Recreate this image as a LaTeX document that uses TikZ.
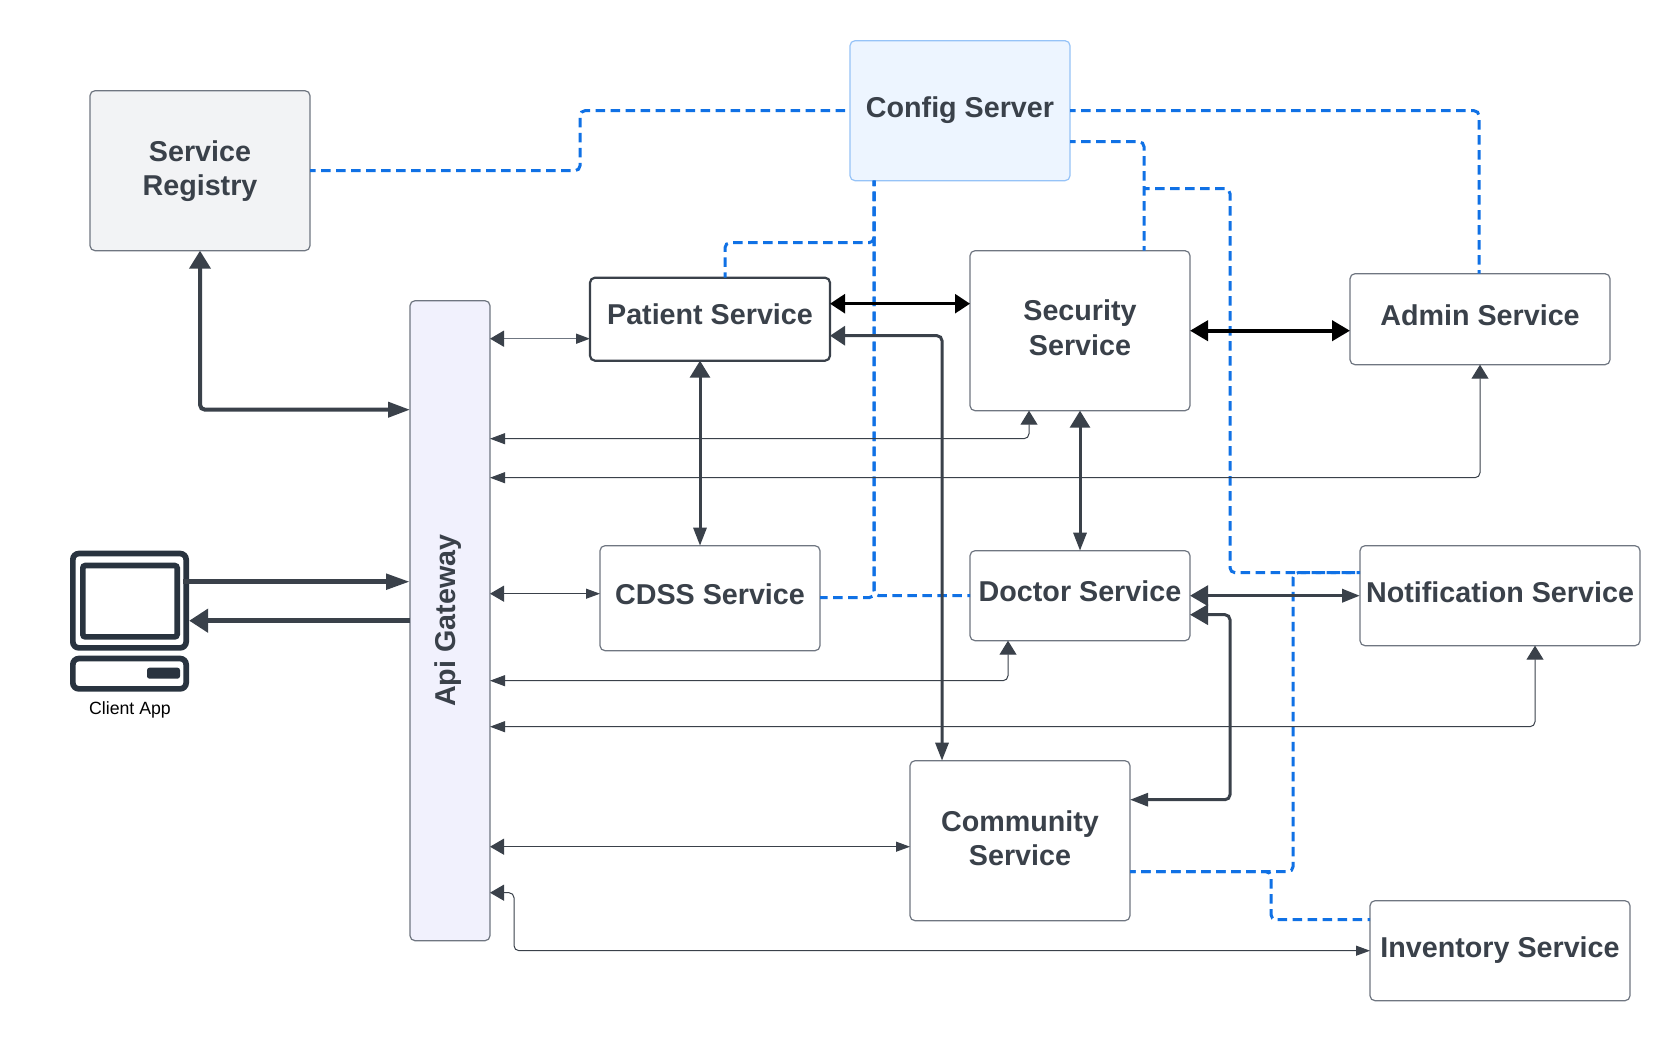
\documentclass[tikz,border=0pt]{standalone}
\usepackage{fontspec}
\setmainfont{Liberation Sans}
\usetikzlibrary{arrows.meta}
\definecolor{ink}{HTML}{3A414A}
\definecolor{edge}{HTML}{6F7681}
\definecolor{dashblue}{HTML}{1071E5}
\definecolor{cfgfill}{HTML}{EDF5FF}
\definecolor{cfgedge}{HTML}{96C3F7}
\definecolor{regfill}{HTML}{F2F3F5}
\definecolor{gwfill}{HTML}{F1F1FD}
\definecolor{iconcol}{HTML}{29333F}
\newcommand{\rais}[2]{\raisebox{#1pt}[0pt][0pt]{#2}}
\newcommand{\rtwo}[3]{\raisebox{#1pt}[0pt][0pt]{\begin{tabular}[b]{@{}c@{}}#2\\#3\end{tabular}}}
\tikzset{
  tA/.tip={Triangle[length=14pt,width=16pt]},
  tB/.tip={Triangle[length=15pt,width=11pt]},
  tN/.tip={Triangle[length=14pt,width=10pt]},
  tC/.tip={Triangle[length=14pt,width=17pt]},
  tD/.tip={Triangle[length=18pt,width=21pt]},
  tE/.tip={Triangle[length=22pt,width=15pt]},
  tF/.tip={Triangle[length=17pt,width=20pt]},
  tG/.tip={Triangle[length=18pt,width=13pt]},
  tH/.tip={Triangle[length=15pt,width=19pt]},
  tJ/.tip={Triangle[length=18pt,width=20pt]},
  tL/.tip={Triangle[length=24pt,width=15pt]},
  tM/.tip={Triangle[length=19pt,width=23pt]},
  svc/.style={draw=edge,line width=1.2pt,fill=white,rounded corners=5pt,inner sep=0pt,outer sep=0pt,
    text=ink,font=\fontsize{28.7}{34.3}\selectfont\bfseries,align=center},
  icon/.style={draw=iconcol,line width=5.7pt,fill=white,rounded corners=6pt,inner sep=0pt,outer sep=0pt},
  thinln/.style={draw=ink,line width=1pt,rounded corners=5pt},
  midln/.style={draw=ink,line width=3pt,rounded corners=5pt},
  thickln/.style={draw=ink,line width=4pt,rounded corners=5pt},
  blackln/.style={draw=black,line width=2.6pt},
  dashln/.style={draw=dashblue,line width=3pt,dash pattern=on 9.5pt off 5.5pt,dash phase=4pt,rounded corners=5pt},
}
\begin{document}
\begin{tikzpicture}[x=1pt,y=-1pt]
\useasboundingbox[fill=white] (0,-0.7) rectangle (1680,1039.3);
% services
\node[svc,fill=regfill,minimum width=220pt,minimum height=160pt] (reg) at (200,170) {\rtwo{-25}{Service}{Registry}};
\node[svc,fill=cfgfill,draw=cfgedge,minimum width=220pt,minimum height=140pt] (cfg) at (960,110) {\rais{-7}{Config Server}};
\node[svc,fill=gwfill,minimum width=80pt,minimum height=640pt] (gw) at (450,620) {\rotatebox[origin=c]{90}{\raisebox{-5pt}[0pt][0pt]{\makebox[0pt]{Api Gateway}}}};
\node[svc,draw=ink,line width=2.2pt,minimum width=240pt,minimum height=83pt] (pat) at (710,318.5) {\rais{-5.5}{Patient Service}};
\node[svc,minimum width=220pt,minimum height=160pt] (sec) at (1080,330) {\rtwo{-24.5}{Security}{Service}};
\node[svc,minimum width=260pt,minimum height=91pt] (adm) at (1480,318.5) {\rais{-6.5}{Admin Service}};
\node[svc,minimum width=220pt,minimum height=105pt] (cds) at (710,597.5) {\rais{-6}{CDSS Service}};
\node[svc,minimum width=220pt,minimum height=90pt] (doc) at (1080,595) {\rais{-6}{Doctor Service}};
\node[svc,minimum width=280pt,minimum height=100pt] (ntf) at (1500,595) {\rais{-7}{Notification Service}};
\node[svc,minimum width=220pt,minimum height=160pt] (com) at (1020,840) {\rtwo{-25}{Community}{Service}};
\node[svc,minimum width=260pt,minimum height=100pt] (inv) at (1500,950) {\rais{-7}{Inventory Service}};
% client icon
\node[icon,minimum width=113.3pt,minimum height=94.3pt] (mon) at (129.5,600) {};
\node[icon,minimum width=94.3pt,minimum height=71.3pt,rounded corners=2.5pt] (scr) at (130,600.5) {};
\node[icon,minimum width=113.3pt,minimum height=30.3pt] (tow) at (129.5,673) {};
\node[fill=iconcol,draw=none,rounded corners=2.5pt,inner sep=0pt,minimum width=33pt,minimum height=11pt] (btn) at (163.5,672.5) {};
\node[inner sep=0pt,text=black,font=\fontsize{17.7}{21}\selectfont] (cli) at (130,714) {\rais{0}{Client App}};
% dashed config links
\draw[dashln] (reg.east |- 0,170) -- (580,170) -- (580,110) -- (cfg.west |- 0,110);
\draw[dashln] (cfg.east |- 0,110) -| (adm.north -| 1479,0);
\draw[dashln] (cfg.east |- 0,141) -| (1144,0 |- sec.north);
\draw[dashln] (1144,188) -- (1230,188) -- (1230,572) -- (ntf.west |- 0,572);
\draw[dashln] (874,0 |- cfg.south) -- (874,242) -- (725,242) -- (725,0 |- pat.north);
\draw[dashln] (874,0 |- cfg.south) -- (874,597) -- (cds.east |- 0,597);
\draw[dashln] (874,0 |- cfg.south) -- (874,595) -- (doc.west |- 0,595);
\draw[dashln] (com.east |- 0,871) -- (1293,871) -- (1293,572) -- (ntf.west |- 0,572);
\draw[dashln] (com.east |- 0,871) -- (1271,871) -- (1271,919) -- (inv.west |- 0,919);
% gateway links
\draw[thinln,draw=edge,line width=1.5pt,arrows={tA[fill=ink,color=ink]-tN[fill=ink,color=ink]}] (gw.east |- 0,338) -- (pat.west |- 0,338);
\draw[thinln,ink,arrows={tA-tN}] (gw.east |- 0,593) -- (cds.west |- 0,593);
\draw[thinln,ink,arrows={tB-tC}] (gw.east |- 0,438) -| (1029,0 |- sec.south);
\draw[thinln,ink,arrows={tB-tC}] (gw.east |- 0,477) -| (1480,0 |- adm.south);
\draw[thinln,ink,arrows={tB-tC}] (gw.east |- 0,680) -| (1008,0 |- doc.south);
\draw[thinln,ink,arrows={tB-tC}] (gw.east |- 0,726) -| (1535,0 |- ntf.south);
\draw[thinln,ink,arrows={tA-tN}] (gw.east |- 0,846) -- (com.west |- 0,846);
\draw[thinln,ink,arrows={tA-tN}] (gw.east |- 0,892) -- (514,892) -- (514,950) -- (inv.west |- 0,950);
% strong links
\draw[thickln,ink,arrows={tD-tE}] (200,0 |- reg.south) |- (gw.west |- 0,409);
\draw[line width=5pt,ink,arrows={-tL},shorten <=-3pt] (mon.east |- 0,581) -- (gw.west |- 0,581);
\draw[line width=5pt,ink,arrows={-tM},shorten >=3pt] (gw.west |- 0,620) -- (mon.east |- 0,620);
\draw[midln,ink,arrows={tF-tG}] (700,0 |- pat.south) -- (700,0 |- cds.north);
\draw[midln,ink,arrows={tF-tG}] (sec.south) -- (doc.north);
\draw[blackln,arrows={tH-tH}] (pat.east |- 0,303) -- (sec.west |- 0,303);
\draw[blackln,line width=4pt,arrows={tJ-tJ}] (sec.east |- 0,330) -- (adm.west |- 0,330);
\draw[midln,line width=3pt,ink,arrows={tH-tG}] (pat.east |- 0,335) -| (942,0 |- com.north);
\draw[midln,line width=3.5pt,ink,arrows={tJ-tG}] (doc.east |- 0,595) -- (ntf.west |- 0,595);
\draw[midln,line width=3pt,ink,arrows={tJ-tG}] (doc.east |- 0,614) -- (1230,614) -- (1230,799) -- (com.east |- 0,799);
\end{tikzpicture}
\end{document}
